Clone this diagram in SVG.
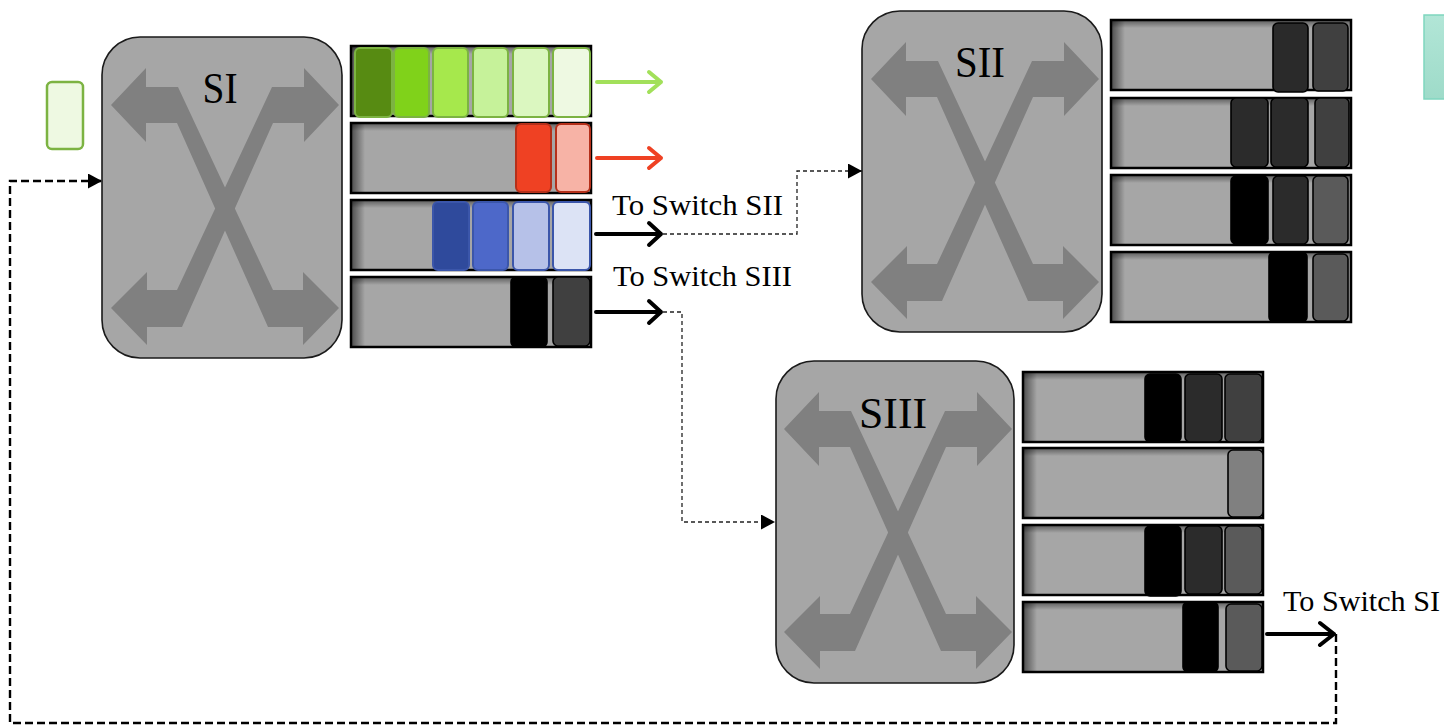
<svg xmlns="http://www.w3.org/2000/svg" width="1444" height="725" viewBox="0 0 1444 725">
<style>
.sw{fill:#a6a6a6;stroke:#1a1a1a;stroke-width:1.6}
.xr{fill:#808080}
.lbl{font-family:"Liberation Serif",serif;fill:#000}
.big{font-size:45px}
.txt{font-size:30px}
.pk{stroke-width:2}
.g{stroke:#7cb342}
.r{stroke:#b5301a}
.b{stroke:#3b56aa}
.k{stroke:#000;stroke-width:1.6}
.dash{fill:none;stroke:#222;stroke-width:1.3;stroke-dasharray:4 3}
.dash2{fill:none;stroke:#000;stroke-width:2.4;stroke-dasharray:8 4}
.out{fill:none;stroke-width:4;stroke-linecap:round;stroke-linejoin:round}
</style>
<defs>
  <linearGradient id="shL" x1="0" x2="1" y1="0" y2="0">
    <stop offset="0" stop-color="#000" stop-opacity="0.55"/>
    <stop offset="1" stop-color="#000" stop-opacity="0"/>
  </linearGradient>
  <linearGradient id="shT" x1="0" x2="0" y1="0" y2="1">
    <stop offset="0" stop-color="#000" stop-opacity="0.45"/>
    <stop offset="1" stop-color="#000" stop-opacity="0"/>
  </linearGradient>
  <linearGradient id="teal" x1="0" x2="0" y1="0" y2="1">
    <stop offset="0" stop-color="#b2e6d7"/>
    <stop offset="1" stop-color="#9edbc9"/>
  </linearGradient>
  <!-- one double-headed arm of the crossbar symbol -->
  <path id="arm" class="xr" d="M9,68 L44,31 L44,50 L76,50 L171,253 L201,253 L201,235 L237,271 L201,308 L201,290 L166,290 L75,86 L44,86 L44,105 Z"/>
  <g id="cross">
    <use href="#arm"/>
    <use href="#arm" transform="translate(246,0) scale(-1,1)"/>
  </g>
  <!-- empty output queue slot -->
  <g id="queue">
    <rect width="240" height="70" fill="#a6a6a6"/>
    <rect width="14" height="70" fill="url(#shL)"/>
    <rect width="240" height="8" fill="url(#shT)"/>
    <rect width="240" height="70" fill="none" stroke="#000" stroke-width="2.5"/>
  </g>
  <marker id="tri" markerUnits="userSpaceOnUse" markerWidth="15" markerHeight="15" refX="14" refY="7.5" orient="auto">
    <path d="M0,0 L14,7.5 L0,15 Z" fill="#000"/>
  </marker>
</defs>

<rect width="1444" height="725" fill="#fff"/>

<!-- loose packet waiting at the input -->
<g id="packet-in">
  <rect x="47" y="82" width="36" height="67" rx="5" fill="#eef9e2" stroke="#7cb342" stroke-width="2.5"/>
</g>

<!-- partial packet at the right border -->
<g id="packet-teal">
  <rect x="1424" y="15" width="40" height="84" fill="url(#teal)" stroke="#7fd6bf" stroke-width="1.5"/>
</g>

<!-- Switch SI -->
<g id="switch-SI">
  <rect class="sw" x="102" y="37" width="240" height="321" rx="38"/>
  <use href="#cross" x="102" y="37"/>
  <text class="lbl big" x="220" y="103" text-anchor="middle" textLength="35" lengthAdjust="spacingAndGlyphs">SI</text>
</g>
<g id="queues-SI">
  <use href="#queue" x="351" y="46"/>
  <rect x="355" y="48" width="37" height="69" rx="5" fill="#578b12" class="pk g"/>
  <rect x="394" y="48" width="35" height="69" rx="5" fill="#80d21a" class="pk g"/>
  <rect x="433" y="48" width="35" height="69" rx="5" fill="#a6e84c" class="pk g"/>
  <rect x="473" y="48" width="35" height="69" rx="5" fill="#c6f29a" class="pk g"/>
  <rect x="513" y="48" width="36" height="69" rx="5" fill="#dbf7c0" class="pk g"/>
  <rect x="553" y="48" width="37" height="69" rx="5" fill="#eef9e2" class="pk g"/>

  <use href="#queue" x="351" y="123"/>
  <rect x="516" y="124" width="35" height="68" rx="5" fill="#ef4123" class="pk r"/>
  <rect x="556" y="124" width="34" height="68" rx="5" fill="#f7b3a6" class="pk r"/>

  <use href="#queue" x="351" y="200"/>
  <rect x="433" y="202" width="36" height="68" rx="5" fill="#2f4a9c" class="pk b"/>
  <rect x="473" y="202" width="35" height="68" rx="5" fill="#4d68c9" class="pk b"/>
  <rect x="513" y="202" width="36" height="68" rx="5" fill="#b6c1e8" class="pk b"/>
  <rect x="553" y="202" width="37" height="68" rx="5" fill="#dce3f5" class="pk b"/>

  <use href="#queue" x="351" y="277"/>
  <rect x="511" y="277" width="36" height="70" rx="5" fill="#000" class="k"/>
  <rect x="553" y="277" width="37" height="69" rx="5" fill="#404040" class="k"/>
</g>

<!-- Switch SII -->
<g id="switch-SII">
  <rect class="sw" x="862" y="11" width="240" height="321" rx="38"/>
  <use href="#cross" x="862" y="11"/>
  <text class="lbl big" x="980" y="77" text-anchor="middle" textLength="50" lengthAdjust="spacingAndGlyphs">SII</text>
</g>
<g id="queues-SII">
  <use href="#queue" x="1111" y="20"/>
  <rect x="1273" y="23" width="35" height="69" rx="5" fill="#2a2a2a" class="k"/>
  <rect x="1313" y="23" width="35" height="68" rx="5" fill="#404040" class="k"/>

  <use href="#queue" x="1111" y="98"/>
  <rect x="1231" y="98" width="37" height="69" rx="5" fill="#2b2b2b" class="k"/>
  <rect x="1271" y="98" width="37" height="69" rx="5" fill="#2b2b2b" class="k"/>
  <rect x="1315" y="98" width="34" height="69" rx="5" fill="#404040" class="k"/>

  <use href="#queue" x="1111" y="175"/>
  <rect x="1231" y="176" width="37" height="68" rx="5" fill="#000" class="k"/>
  <rect x="1273" y="176" width="35" height="68" rx="5" fill="#2b2b2b" class="k"/>
  <rect x="1313" y="176" width="35" height="68" rx="5" fill="#5a5a5a" class="k"/>

  <use href="#queue" x="1111" y="252"/>
  <rect x="1269" y="252" width="38" height="70" rx="5" fill="#000" class="k"/>
  <rect x="1313" y="254" width="35" height="67" rx="5" fill="#5a5a5a" class="k"/>
</g>

<!-- Switch SIII -->
<g id="switch-SIII">
  <rect class="sw" x="776" y="361" width="238" height="322" rx="38"/>
  <use href="#cross" x="775" y="361"/>
  <text class="lbl big" x="893" y="428" text-anchor="middle" textLength="68" lengthAdjust="spacingAndGlyphs">SIII</text>
</g>
<g id="queues-SIII">
  <use href="#queue" x="1023" y="372"/>
  <rect x="1145" y="374" width="36" height="68" rx="5" fill="#000" class="k"/>
  <rect x="1185" y="374" width="37" height="68" rx="5" fill="#2b2b2b" class="k"/>
  <rect x="1225" y="374" width="37" height="68" rx="5" fill="#404040" class="k"/>

  <use href="#queue" x="1023" y="448"/>
  <rect x="1228" y="450" width="35" height="67" rx="5" fill="#808080" class="k"/>

  <use href="#queue" x="1023" y="525"/>
  <rect x="1145" y="526" width="36" height="70" rx="5" fill="#000" class="k"/>
  <rect x="1185" y="526" width="37" height="68" rx="5" fill="#2b2b2b" class="k"/>
  <rect x="1225" y="526" width="37" height="68" rx="5" fill="#5a5a5a" class="k"/>

  <use href="#queue" x="1023" y="602"/>
  <rect x="1183" y="602" width="35" height="70" rx="5" fill="#000" class="k"/>
  <rect x="1226" y="604" width="36" height="67" rx="5" fill="#5a5a5a" class="k"/>
</g>

<!-- links and output arrows -->
<g id="connectors">
  <path class="out" stroke="#a2e05a" d="M597,82 H661 M649,72 L661,82 L649,92"/>
  <path class="out" stroke="#ef4123" d="M597,158 H661 M649,148 L661,158 L649,168"/>
  <path class="out" stroke="#000" d="M596,234 H661 M649,223 L661,234 L649,245"/>
  <path class="out" stroke="#000" d="M596,312 H661 M649,301 L661,312 L649,323"/>
  <path class="out" stroke="#000" d="M1267,634 H1334 M1320,623 L1334,634 L1320,645"/>

  <path class="dash" d="M663,234 H797 V171 H862" marker-end="url(#tri)"/>
  <path class="dash" d="M663,312 H682 V522 H775" marker-end="url(#tri)"/>
  <path class="dash2" d="M1336,634 V723 H10 V181 H102" marker-end="url(#tri)"/>

  <text class="lbl txt" x="612" y="215" textLength="171" lengthAdjust="spacingAndGlyphs">To Switch SII</text>
  <text class="lbl txt" x="613" y="286" textLength="179" lengthAdjust="spacingAndGlyphs">To Switch SIII</text>
  <text class="lbl txt" x="1283" y="611" textLength="157" lengthAdjust="spacingAndGlyphs">To Switch SI</text>
</g>
</svg>
